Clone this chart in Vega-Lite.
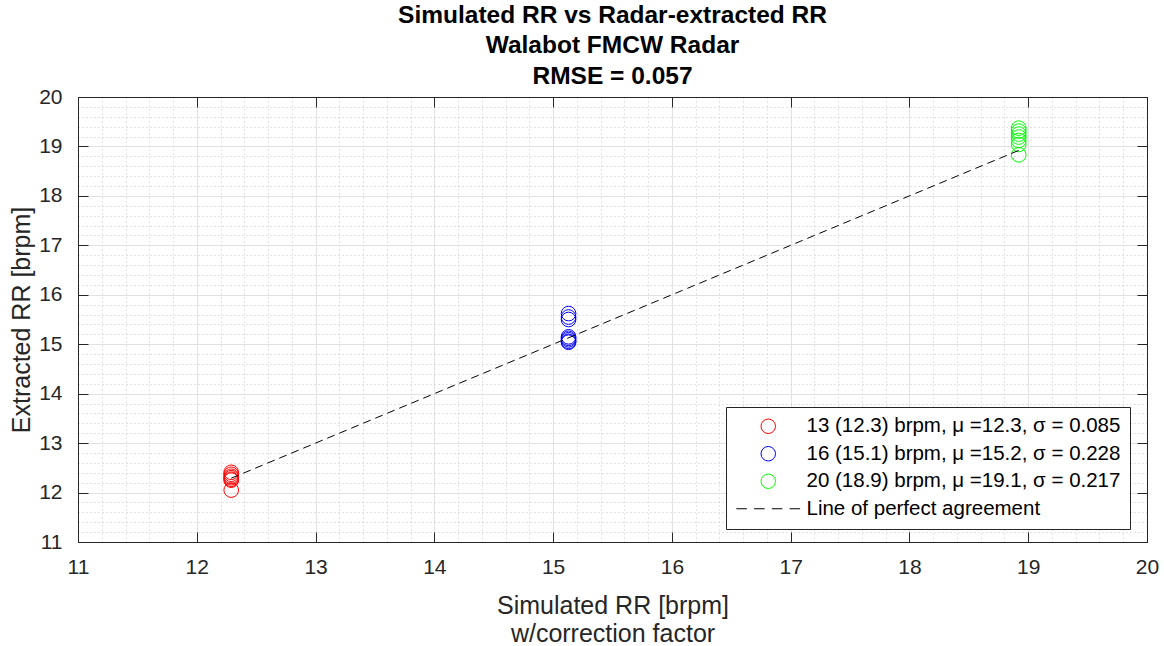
{
  "$schema": "https://vega.github.io/schema/vega-lite/v6.json",
  "width": 1069,
  "height": 445,
  "autosize": {"type": "none"},
  "padding": {"left": 78, "top": 97, "right": 17, "bottom": 104},
  "background": "white",
  "config": {
    "font": "Liberation Sans",
    "view": {"stroke": "#262626", "strokeWidth": 1}
  },
  "title": {
    "text": ["Simulated RR vs Radar-extracted RR", "Walabot FMCW Radar", "RMSE = 0.057"],
    "font": "Liberation Sans",
    "fontSize": 24.5,
    "fontWeight": "bold",
    "color": "#000000",
    "lineHeight": 30.5,
    "anchor": "middle",
    "offset": -3
  },
  "datasets": {
    "pts": [
      {"sim": 12.29, "ext": 12.41, "series": "13 (12.3) brpm, μ =12.3, σ = 0.085"},
      {"sim": 12.29, "ext": 12.37, "series": "13 (12.3) brpm, μ =12.3, σ = 0.085"},
      {"sim": 12.29, "ext": 12.33, "series": "13 (12.3) brpm, μ =12.3, σ = 0.085"},
      {"sim": 12.29, "ext": 12.3, "series": "13 (12.3) brpm, μ =12.3, σ = 0.085"},
      {"sim": 12.29, "ext": 12.27, "series": "13 (12.3) brpm, μ =12.3, σ = 0.085"},
      {"sim": 12.29, "ext": 12.25, "series": "13 (12.3) brpm, μ =12.3, σ = 0.085"},
      {"sim": 12.29, "ext": 12.05, "series": "13 (12.3) brpm, μ =12.3, σ = 0.085"},
      {"sim": 15.13, "ext": 15.62, "series": "16 (15.1) brpm, μ =15.2, σ = 0.228"},
      {"sim": 15.13, "ext": 15.55, "series": "16 (15.1) brpm, μ =15.2, σ = 0.228"},
      {"sim": 15.13, "ext": 15.5, "series": "16 (15.1) brpm, μ =15.2, σ = 0.228"},
      {"sim": 15.13, "ext": 15.15, "series": "16 (15.1) brpm, μ =15.2, σ = 0.228"},
      {"sim": 15.13, "ext": 15.12, "series": "16 (15.1) brpm, μ =15.2, σ = 0.228"},
      {"sim": 15.13, "ext": 15.09, "series": "16 (15.1) brpm, μ =15.2, σ = 0.228"},
      {"sim": 15.13, "ext": 15.06, "series": "16 (15.1) brpm, μ =15.2, σ = 0.228"},
      {"sim": 15.13, "ext": 15.04, "series": "16 (15.1) brpm, μ =15.2, σ = 0.228"},
      {"sim": 18.92, "ext": 19.37, "series": "20 (18.9) brpm, μ =19.1, σ = 0.217"},
      {"sim": 18.92, "ext": 19.31, "series": "20 (18.9) brpm, μ =19.1, σ = 0.217"},
      {"sim": 18.92, "ext": 19.25, "series": "20 (18.9) brpm, μ =19.1, σ = 0.217"},
      {"sim": 18.92, "ext": 19.19, "series": "20 (18.9) brpm, μ =19.1, σ = 0.217"},
      {"sim": 18.92, "ext": 19.12, "series": "20 (18.9) brpm, μ =19.1, σ = 0.217"},
      {"sim": 18.92, "ext": 19.04, "series": "20 (18.9) brpm, μ =19.1, σ = 0.217"},
      {"sim": 18.92, "ext": 18.83, "series": "20 (18.9) brpm, μ =19.1, σ = 0.217"}
    ],
    "line": [
      {"sim": 12.29, "ext": 12.29, "series": "Line of perfect agreement"},
      {"sim": 18.92, "ext": 18.92, "series": "Line of perfect agreement"}
    ]
  },
  "layer": [
    {
      "data": {"name": "pts"},
      "mark": {"type": "point", "filled": false, "size": 215, "strokeWidth": 1, "opacity": 1},
      "encoding": {
        "x": {
          "field": "sim", "type": "quantitative",
          "scale": {"domain": [11, 20], "nice": false, "zero": false},
          "axis": {
            "orient": "bottom",
            "values": [11,11.2,11.4,11.6,11.8,12,12.2,12.4,12.6,12.8,13,13.2,13.4,13.6,13.8,14,14.2,14.4,14.6,14.8,15,15.2,15.4,15.6,15.8,16,16.2,16.4,16.6,16.8,17,17.2,17.4,17.6,17.8,18,18.2,18.4,18.6,18.8,19,19.2,19.4,19.6,19.8,20],
            "labelExpr": "abs(datum.value - round(datum.value)) < 0.01 ? format(datum.value, 'd') : ''",
            "labelOverlap": false,
            "labelFlush": false,
            "labelFont": "Liberation Sans",
            "labelFontSize": 21,
            "labelColor": "#262626",
            "labelPadding": 24,
            "grid": true,
            "gridColor": {"condition": {"test": "abs(datum.value - round(datum.value)) < 0.01", "value": "#e2e2e2"}, "value": "#c4c4c4"},
            "gridDash": {"condition": {"test": "abs(datum.value - round(datum.value)) < 0.01", "value": []}, "value": [1, 3]},
            "gridWidth": 1,
            "tickOpacity": {"condition": {"test": "abs(datum.value - round(datum.value)) < 0.01", "value": 1}, "value": 0},
            "tickSize": -10,
            "tickColor": "#262626",
            "domainColor": "#262626",
            "title": ["Simulated RR [brpm]", "w/correction factor"],
            "titleFont": "Liberation Sans",
            "titleFontSize": 25,
            "titleFontWeight": "normal",
            "titleColor": "#262626",
            "titleLineHeight": 28,
            "titlePadding": 16
          }
        },
        "y": {
          "field": "ext", "type": "quantitative",
          "scale": {"domain": [11, 20], "nice": false, "zero": false},
          "axis": {
            "orient": "left",
            "values": [11,11.2,11.4,11.6,11.8,12,12.2,12.4,12.6,12.8,13,13.2,13.4,13.6,13.8,14,14.2,14.4,14.6,14.8,15,15.2,15.4,15.6,15.8,16,16.2,16.4,16.6,16.8,17,17.2,17.4,17.6,17.8,18,18.2,18.4,18.6,18.8,19,19.2,19.4,19.6,19.8,20],
            "labelExpr": "abs(datum.value - round(datum.value)) < 0.01 ? format(datum.value, 'd') : ''",
            "labelOverlap": false,
            "labelFlush": false,
            "labelFont": "Liberation Sans",
            "labelFontSize": 21,
            "labelColor": "#262626",
            "labelPadding": 26,
            "grid": true,
            "gridColor": {"condition": {"test": "abs(datum.value - round(datum.value)) < 0.01", "value": "#e2e2e2"}, "value": "#c4c4c4"},
            "gridDash": {"condition": {"test": "abs(datum.value - round(datum.value)) < 0.01", "value": []}, "value": [1, 3]},
            "gridWidth": 1,
            "tickOpacity": {"condition": {"test": "abs(datum.value - round(datum.value)) < 0.01", "value": 1}, "value": 0},
            "tickSize": -10,
            "tickColor": "#262626",
            "domainColor": "#262626",
            "title": "Extracted RR [brpm]",
            "titleFont": "Liberation Sans",
            "titleFontSize": 25,
            "titleFontWeight": "normal",
            "titleColor": "#262626",
            "titlePadding": 4
          }
        },
        "color": {
          "field": "series", "type": "nominal",
          "scale": {
            "domain": ["13 (12.3) brpm, μ =12.3, σ = 0.085", "16 (15.1) brpm, μ =15.2, σ = 0.228", "20 (18.9) brpm, μ =19.1, σ = 0.217", "Line of perfect agreement"],
            "range": ["#ff0000", "#0000ff", "#00ff00", "#000000"]
          },
          "legend": {
            "title": null,
            "orient": "none",
            "legendX": 648,
            "legendY": 310,
            "strokeColor": "#262626",
            "fillColor": "#ffffff",
            "padding": 9,
            "labelFont": "Liberation Sans",
            "labelFontSize": 20.5,
            "labelColor": "#000000",
            "labelLimit": 600,
            "labelOffset": 28,
            "symbolOffset": 23,
            "symbolSize": 210,
            "symbolStrokeWidth": 1,
            "symbolFillColor": "transparent",
            "rowPadding": 6.5
          }
        },
        "shape": {
          "field": "series", "type": "nominal",
          "scale": {
            "domain": ["13 (12.3) brpm, μ =12.3, σ = 0.085", "16 (15.1) brpm, μ =15.2, σ = 0.228", "20 (18.9) brpm, μ =19.1, σ = 0.217", "Line of perfect agreement"],
            "range": ["circle", "circle", "circle", "M-4.4,0H-2.95M-1.95,0H-0.5M0.5,0H1.95M2.95,0H4.4"]
          },
          "legend": {
            "title": null,
            "orient": "none",
            "legendX": 648,
            "legendY": 310,
            "strokeColor": "#262626",
            "fillColor": "#ffffff",
            "padding": 9,
            "labelFont": "Liberation Sans",
            "labelFontSize": 20.5,
            "labelColor": "#000000",
            "labelLimit": 600,
            "labelOffset": 28,
            "symbolOffset": 23,
            "symbolSize": 210,
            "symbolStrokeWidth": 1,
            "symbolFillColor": "transparent",
            "rowPadding": 6.5
          }
        }
      }
    },
    {
      "data": {"name": "line"},
      "mark": {"type": "line", "strokeDash": [8, 5], "strokeWidth": 1},
      "encoding": {
        "x": {
          "field": "sim", "type": "quantitative",
          "scale": {"domain": [11, 20], "nice": false, "zero": false},
          "axis": {
            "orient": "top",
            "values": [11,12,13,14,15,16,17,18,19,20],
            "labels": false,
            "grid": false,
            "tickSize": -10,
            "tickColor": "#262626",
            "domainColor": "#262626",
            "title": null
          }
        },
        "y": {
          "field": "ext", "type": "quantitative",
          "scale": {"domain": [11, 20], "nice": false, "zero": false},
          "axis": {
            "orient": "right",
            "values": [11,12,13,14,15,16,17,18,19,20],
            "labels": false,
            "grid": false,
            "tickSize": -10,
            "tickColor": "#262626",
            "domainColor": "#262626",
            "title": null
          }
        },
        "color": {"field": "series", "type": "nominal"}
      }
    }
  ],
  "resolve": {"axis": {"x": "independent", "y": "independent"}}
}
